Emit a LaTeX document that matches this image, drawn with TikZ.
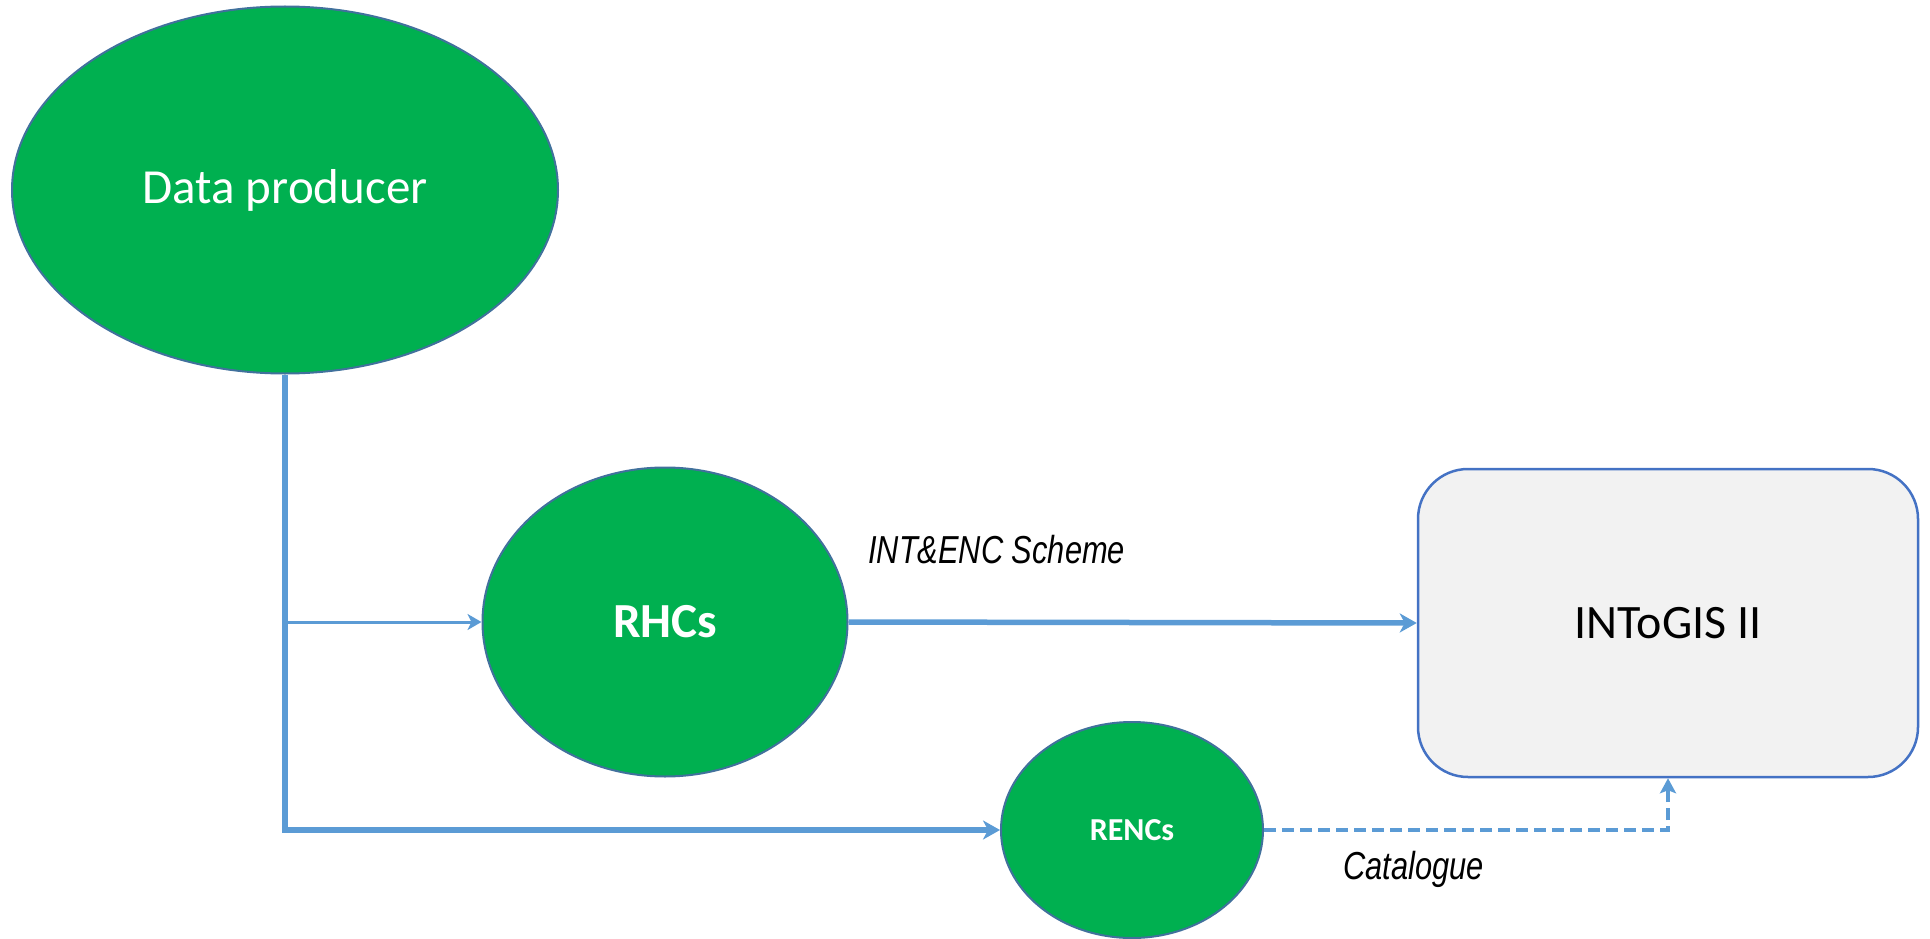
\documentclass[tikz,border=0pt]{standalone}
\usepackage{fontspec}
\setmainfont{Carlito}
\newfontfamily\labelfont[FakeStretch=0.79]{Liberation Sans}
\usetikzlibrary{shapes.geometric,arrows.meta}
\definecolor{nodegreen}{HTML}{00B050}
\definecolor{nodeedge}{HTML}{41719C}
\definecolor{arrowblue}{HTML}{5B9BD5}
\definecolor{boxedge}{HTML}{4472C4}
\definecolor{boxfill}{HTML}{F2F2F2}
\begin{document}
\begin{tikzpicture}[x=1pt,y=-1pt,
  greenell/.style={ellipse, fill=nodegreen, draw=nodeedge, line width=2pt, inner sep=0pt, text=white},
  sysbox/.style={rectangle, rounded corners=50pt, fill=boxfill, draw=boxedge, line width=2.5pt, inner sep=0pt,
    minimum width=500pt, minimum height=308pt, font=\fontsize{48}{56}\selectfont},
  thickarrow/.style={draw=arrowblue, line width=5.5pt, line join=miter, -{Stealth[length=17pt,width=19pt,inset=5pt]}},
  thinarrow/.style={draw=arrowblue, line width=3pt, -{Stealth[length=14pt,width=16pt,inset=4pt]}},
  dasharrow/.style={draw=arrowblue, line width=4.5pt, dash pattern=on 12pt off 6pt, line join=miter, -{Stealth[length=15pt,width=16pt,inset=3pt]}},
  lbl/.style={anchor=base west, inner sep=0pt, font=\labelfont\itshape\fontsize{39}{46}\selectfont}
]
\useasboundingbox (0,0) rectangle (1930,939);
\node[greenell, minimum width=546pt, minimum height=367pt, font=\fontsize{49}{58}\selectfont] (dp) at (285,190) {Data producer};
\node[greenell, minimum width=365pt, minimum height=309pt, font=\bfseries\fontsize{49}{58}\selectfont] (rhc) at (665,622) {RHCs};
\node[greenell, minimum width=262pt, minimum height=216pt, font=\bfseries\fontsize{32}{38}\selectfont] (renc) at (1132,830) {RENCs};
\node[sysbox] (box) at (1668,623) {INToGIS II};
\draw[thickarrow] (dp.south) |- (renc.west);
\draw[thinarrow] (dp.south |- rhc.west) -- (rhc.west);
\draw[thickarrow] (rhc.east) -- (box.west);
\draw[dasharrow] (renc.east) -| (box.south);
\node[lbl] (scheme) at (868,563) {INT\&ENC Scheme};
\node[lbl] (catalogue) at (1343,879) {Catalogue};
\end{tikzpicture}
\end{document}
